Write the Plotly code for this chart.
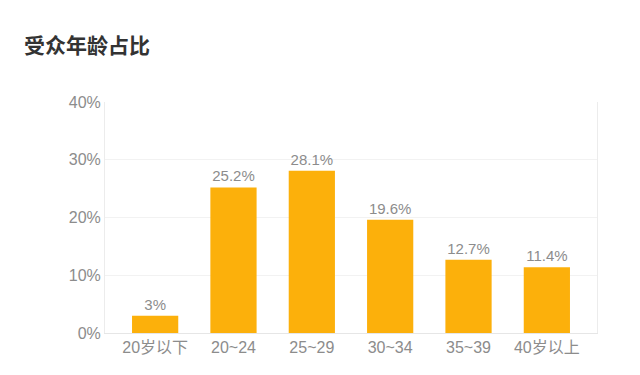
import plotly.graph_objects as go

categories = ["20岁以下", "20~24", "25~29", "30~34", "35~39", "40岁以上"]
values = [3, 25.2, 28.1, 19.6, 12.7, 11.4]
labels = [f"{v:g}%" for v in values]
title = "受众年龄占比"

FONT = "Liberation Sans, Noto Sans CJK SC, sans-serif"
TFONT = "Noto Sans CJK SC, sans-serif"

fig = go.Figure(go.Bar(
    x=categories, y=values, text=labels, textposition="outside",
    textfont=dict(size=15, color="#8c8c8c", family=FONT),
    marker=dict(color="#FCB00B", line=dict(width=0)),
    width=0.59, cliponaxis=False,
))

pw = 640 - 105 - 43
ph = 375 - 102 - 42
fig.update_layout(
    width=640, height=375,
    margin=dict(l=105, r=43, t=102, b=42),
    paper_bgcolor="white", plot_bgcolor="white",
    showlegend=False,
    annotations=[dict(
        text=f"<b>{title}</b>", xref="paper", yref="paper",
        x=(22 - 105) / pw, y=(375 - 42 - 44) / ph,
        xanchor="left", yanchor="middle", showarrow=False,
        font=dict(size=21, color="#333333", family=TFONT),
    )],
)

fig.update_xaxes(
    range=[-0.64, 5.64], showgrid=False, showline=True,
    linecolor="#e6e6e6", linewidth=1, mirror=False, ticks="",
    tickfont=dict(size=16, color="#8c8c8c", family=FONT),
)
fig.update_yaxes(
    range=[0, 40], dtick=10, ticksuffix="%",
    showgrid=True, gridcolor="#f2f2f2", gridwidth=1,
    showline=True, linecolor="#ececec", linewidth=1, mirror=True,
    zeroline=False, ticks="",
    tickfont=dict(size=16, color="#8c8c8c", family=FONT),
)

fig.write_html("out.html")
